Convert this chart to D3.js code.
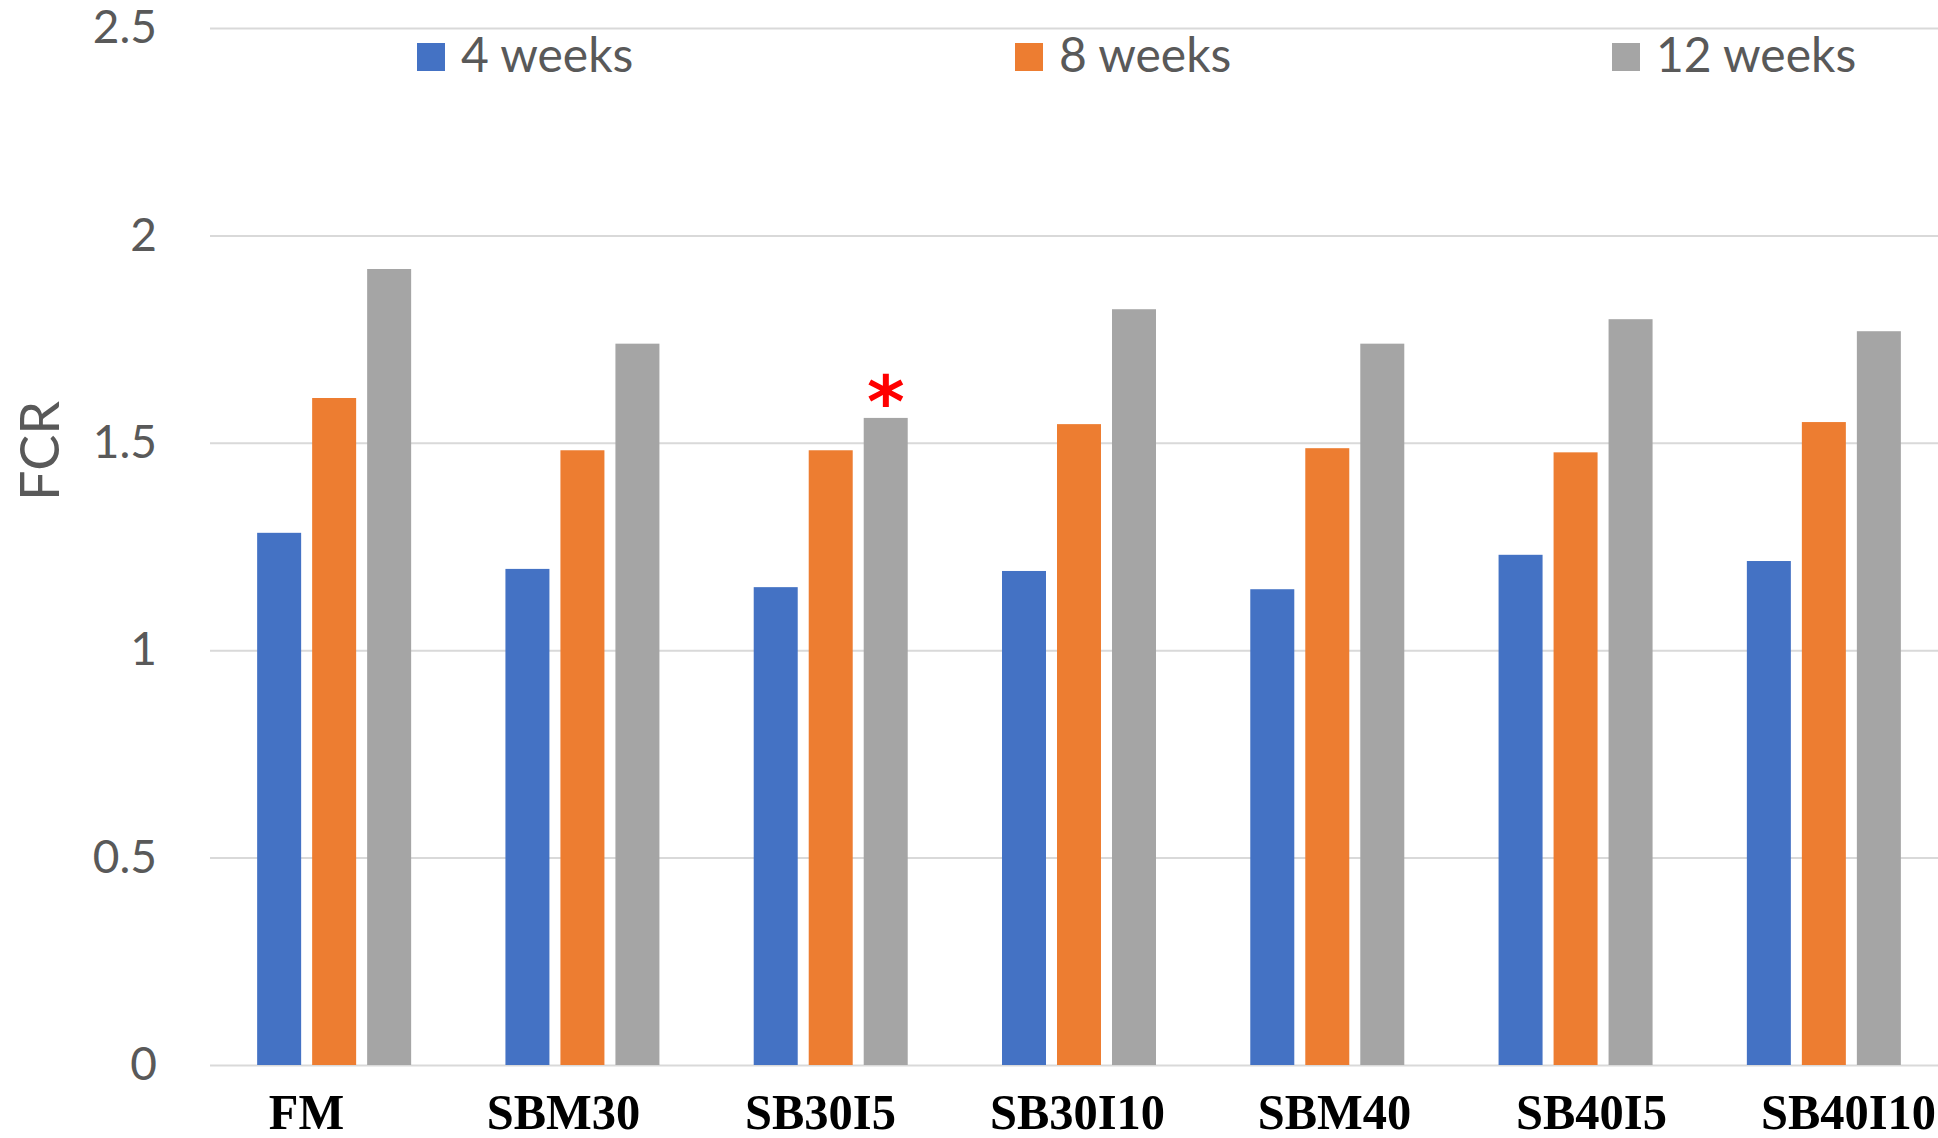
<!DOCTYPE html>
<html>
<head>
<meta charset="utf-8">
<script src="https://cdn.jsdelivr.net/npm/d3@7/dist/d3.min.js"></script>
<style>
  html, body { margin: 0; padding: 0; background: #fff; }
  svg { display: block; }
</style>
</head>
<body>
<svg id="chart" width="1938" height="1138"></svg>
<script>
// Feed conversion ratio by diet and trial duration
const categories = ["FM", "SBM30", "SB30I5", "SB30I10", "SBM40", "SB40I5", "SB40I10"];
const seriesNames = ["4 weeks", "8 weeks", "12 weeks"];
const week4  = [1.283, 1.196, 1.152, 1.191, 1.147, 1.230, 1.215];
const week8  = [1.608, 1.482, 1.482, 1.545, 1.487, 1.477, 1.550];
const week12 = [1.919, 1.739, 1.560, 1.822, 1.739, 1.798, 1.769];
const seriesColors = ["#4472C4", "#ED7D31", "#A5A5A5"];
const yTicks = [0, 0.5, 1, 1.5, 2, 2.5];
const yTitle = "FCR";
// significance marker: category / series index
const marked = [{ category: "SB30I5", series: 2, symbol: "*" }];

const seriesValues = [week4, week8, week12];
const rows = categories.map((c, i) => ({
  category: c,
  values: seriesNames.map((s, j) => ({ series: s, idx: j, value: seriesValues[j][i] }))
}));

const svg = d3.select("#chart");
const W = 1938, H = 1138;
const plotLeft = 210, plotRight = 1948, plotTop = 28, plotBottom = 1065;
const textGray = "#595959";
const sansFont = "Lato, 'Open Sans', 'Noto Sans', sans-serif";

svg.append("rect").attr("width", W).attr("height", H).attr("fill", "#fff");

const y = d3.scaleLinear().domain([0, 2.5]).range([plotBottom, plotTop]);
const x0 = d3.scaleBand().domain(categories).range([plotLeft, plotRight]).padding(0);
const groupWidth = 154;
const x1 = d3.scaleBand().domain(seriesNames)
  .range([-groupWidth / 2, groupWidth / 2]).paddingInner(0.2).paddingOuter(0);
// category labels sit on their own, slightly wider spacing
const xLabel = d3.scalePoint().domain(categories).range([306, 1848]);

// value axis with full-width gridlines
const yAxis = svg.append("g")
  .attr("transform", `translate(${plotLeft},0)`)
  .call(d3.axisLeft(y)
    .tickValues(yTicks)
    .tickFormat(d => String(d))
    .tickSize(-(W - plotLeft))
    .tickPadding(53));
yAxis.select(".domain").remove();
yAxis.selectAll(".tick line").attr("stroke", "#d9d9d9").attr("stroke-width", 2);
yAxis.selectAll(".tick text")
  .attr("fill", textGray)
  .style("font-family", sansFont)
  .style("font-size", "46px");

// bars
const groups = svg.append("g").selectAll("g")
  .data(rows).join("g")
  .attr("transform", d => `translate(${x0(d.category) + x0.bandwidth() / 2},0)`);

groups.selectAll("rect")
  .data(d => d.values).join("rect")
  .attr("x", d => x1(d.series))
  .attr("width", x1.bandwidth())
  .attr("y", d => y(d.value))
  .attr("height", d => y(0) - y(d.value))
  .attr("fill", d => seriesColors[d.idx]);

// significance markers above bars
svg.append("g").selectAll("text")
  .data(marked).join("text")
  .attr("x", d => x0(d.category) + x0.bandwidth() / 2 + x1(seriesNames[d.series]) + x1.bandwidth() / 2)
  .attr("y", d => y(seriesValues[d.series][categories.indexOf(d.category)]) + 9)
  .attr("text-anchor", "middle")
  .attr("fill", "#FF0000")
  .style("font-family", "'DejaVu Sans', sans-serif")
  .style("font-weight", "bold")
  .style("font-size", "72px")
  .text(d => d.symbol);

// category axis
const xAxis = svg.append("g")
  .attr("transform", `translate(0,${plotBottom})`)
  .call(d3.axisBottom(xLabel).tickSize(0).tickPadding(0));
xAxis.select(".domain").remove();
xAxis.selectAll(".tick text")
  .attr("y", 64)
  .attr("dy", null)
  .attr("transform", "scale(0.97,1)")
  .attr("fill", "#000")
  .style("font-family", "'Liberation Serif', 'Times New Roman', serif")
  .style("font-weight", "bold")
  .style("font-size", "50px");

// axis title
svg.append("text")
  .attr("transform", "translate(59,451) rotate(-90)")
  .attr("text-anchor", "middle")
  .attr("fill", textGray)
  .style("font-family", sansFont)
  .style("font-size", "54px")
  .text(yTitle);

// legend
const legendX = [417, 1015, 1612];
const legend = svg.append("g").selectAll("g")
  .data(seriesNames).join("g")
  .attr("transform", (d, i) => `translate(${legendX[i]},43)`);
legend.append("rect")
  .attr("width", 28).attr("height", 28)
  .attr("fill", (d, i) => seriesColors[i]);
legend.append("text")
  .attr("x", 44).attr("y", 29)
  .attr("fill", textGray)
  .style("font-family", sansFont)
  .style("font-size", "48px")
  .text(d => d);
</script>
</body>
</html>
